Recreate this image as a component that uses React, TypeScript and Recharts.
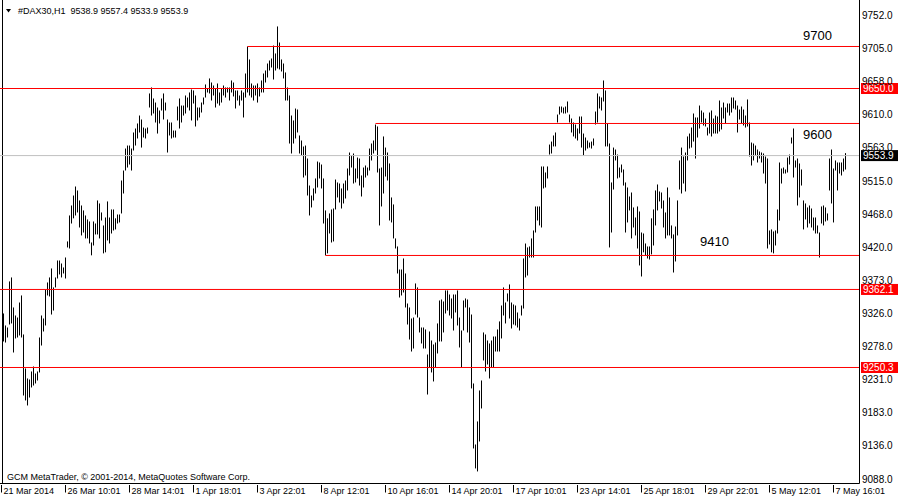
import { ComposedChart, Bar, XAxis, YAxis, ReferenceLine } from 'recharts';

// H1 bars, high and low of each hour
const highs = [
  9327.7, 9310.5, 9307.6, 9373.6, 9379.3, 9336.3, 9324.8, 9321.9, 9343.4, 9353.5,
  9297.6, 9248.9, 9234.6, 9233.1, 9244.6, 9251.7, 9241.7, 9244.6, 9293.3, 9324.8,
  9320.5, 9362.1, 9372.1, 9379.3, 9392.2, 9365.0, 9379.3, 9403.6, 9403.6, 9399.3,
  9393.6, 9407.9, 9430.9, 9468.1, 9482.4, 9496.7, 9509.6, 9503.9, 9489.6, 9482.4,
  9475.3, 9468.1, 9462.4, 9459.5, 9429.4, 9459.5, 9456.6, 9489.6, 9485.3, 9472.4,
  9453.8, 9465.2, 9488.2, 9465.2, 9476.7, 9476.7, 9464.0, 9469.5, 9469.5, 9518.2,
  9532.5, 9564.0, 9568.3, 9568.3, 9564.0, 9587.0, 9592.7, 9599.9, 9611.3, 9605.6,
  9594.1, 9592.7, 9594.1, 9642.9, 9651.5, 9635.7, 9629.9, 9622.8, 9618.5, 9635.7,
  9642.9, 9629.9, 9605.6, 9601.3, 9601.3, 9589.8, 9589.8, 9624.2, 9635.7, 9625.6,
  9625.6, 9640.0, 9637.1, 9644.3, 9648.6, 9647.2, 9640.0, 9622.8, 9622.8, 9629.9,
  9637.1, 9655.8, 9650.0, 9664.4, 9658.6, 9654.3, 9650.0, 9657.2, 9644.3, 9650.0,
  9654.3, 9651.5, 9651.5, 9651.5, 9661.5, 9658.6, 9647.2, 9647.2, 9640.0, 9647.2,
  9644.3, 9671.5, 9710.2, 9691.6, 9657.2, 9654.3, 9654.3, 9657.2, 9651.5, 9661.5,
  9671.5, 9675.8, 9685.8, 9690.1, 9693.0, 9711.6, 9700.2, 9738.9, 9715.9, 9691.6,
  9685.8, 9673.0, 9651.5, 9640.0, 9611.3, 9604.2, 9621.3, 9619.9, 9582.7, 9575.5,
  9566.9, 9568.3, 9549.7, 9511.0, 9496.7, 9506.8, 9521.1, 9545.4, 9544.0, 9541.1,
  9521.1, 9475.3, 9464.0, 9471.0, 9476.7, 9478.1, 9519.6, 9515.4, 9513.9, 9506.8,
  9513.9, 9518.2, 9535.4, 9558.3, 9554.0, 9556.9, 9535.4, 9551.1, 9549.7, 9525.4,
  9536.8, 9539.7, 9536.8, 9564.0, 9571.2, 9575.5, 9598.4, 9595.6, 9535.4, 9536.8,
  9581.3, 9565.4, 9558.3, 9542.6, 9493.9, 9483.9, 9435.2, 9423.7, 9390.7, 9390.7,
  9406.5, 9385.0, 9342.0, 9336.3, 9320.5, 9321.9, 9370.7, 9365.0, 9321.9, 9307.6,
  9307.6, 9304.8, 9268.9, 9301.9, 9289.0, 9283.3, 9286.1, 9313.4, 9346.3, 9347.7,
  9344.9, 9360.7, 9360.7, 9354.9, 9349.2, 9354.9, 9354.9, 9360.7, 9321.9, 9303.3,
  9346.3, 9349.2, 9347.7, 9336.3, 9326.2, 9227.4, 9140.0, 9173.0, 9217.4, 9231.7,
  9300.5, 9297.6, 9289.0, 9284.7, 9289.0, 9294.7, 9294.7, 9304.8, 9316.3, 9339.1,
  9365.0, 9343.4, 9356.4, 9369.3, 9343.4, 9340.6, 9339.1, 9329.1, 9320.5, 9339.1,
  9406.5, 9427.9, 9422.3, 9423.7, 9435.2, 9446.6, 9481.0, 9481.0, 9481.0, 9538.3,
  9538.3, 9529.7, 9538.3, 9569.7, 9574.0, 9582.7, 9587.0, 9612.7, 9624.2, 9624.2,
  9622.8, 9624.2, 9631.4, 9612.7, 9607.0, 9601.3, 9598.4, 9592.7, 9609.9, 9609.9,
  9585.5, 9579.8, 9575.5, 9572.6, 9574.0, 9578.4, 9617.0, 9642.9, 9638.6, 9637.1,
  9661.5, 9647.2, 9599.9, 9571.2, 9515.4, 9565.4, 9562.6, 9555.4, 9536.8, 9541.1,
  9534.0, 9515.4, 9508.2, 9495.3, 9501.0, 9479.6, 9465.2, 9481.0, 9473.8, 9443.7,
  9442.3, 9428.0, 9423.7, 9423.7, 9464.0, 9476.7, 9503.9, 9512.5, 9502.5, 9501.0,
  9489.6, 9472.4, 9508.2, 9493.9, 9453.8, 9440.9, 9452.3, 9489.6, 9546.9, 9565.4,
  9552.6, 9558.3, 9581.3, 9585.5, 9594.1, 9614.2, 9608.5, 9608.5, 9625.6, 9618.5,
  9615.6, 9607.0, 9594.1, 9615.6, 9618.5, 9607.0, 9611.3, 9609.9, 9632.8, 9622.8,
  9629.9, 9622.8, 9628.5, 9628.5, 9637.1, 9637.1, 9632.8, 9625.6, 9619.9, 9624.2,
  9619.9, 9611.3, 9634.3, 9601.3, 9572.6, 9571.2, 9568.3, 9562.6, 9559.8, 9558.3,
  9556.9, 9552.6, 9549.7, 9446.6, 9448.1, 9445.2, 9446.6, 9476.7, 9544.0, 9535.4,
  9536.8, 9534.0, 9551.1, 9555.4, 9579.8, 9592.7, 9546.9, 9549.7, 9542.6, 9534.0,
  9489.6, 9485.3, 9479.6, 9482.4, 9478.1, 9465.2, 9465.2, 9453.8, 9443.7, 9481.0,
  9482.4, 9479.6, 9471.0, 9549.7, 9562.6, 9535.4, 9546.9, 9544.0, 9544.0, 9544.0,
  9549.7, 9557.4,
];

const lows = [
  9287.6, 9286.1, 9293.3, 9311.9, 9313.4, 9271.8, 9291.9, 9293.3, 9296.2, 9293.3,
  9210.2, 9203.1, 9195.9, 9207.3, 9221.7, 9224.5, 9227.4, 9231.7, 9243.2, 9281.8,
  9301.9, 9310.5, 9353.5, 9352.1, 9326.2, 9331.9, 9365.0, 9377.8, 9383.6, 9379.3,
  9385.0, 9377.8, 9422.3, 9420.8, 9456.6, 9464.0, 9468.1, 9472.4, 9450.9, 9439.5,
  9443.7, 9435.2, 9435.2, 9428.0, 9411.0, 9425.1, 9440.9, 9440.9, 9435.2, 9460.9,
  9413.8, 9415.3, 9432.3, 9428.0, 9442.3, 9446.6, 9448.1, 9456.6, 9458.1, 9471.0,
  9499.6, 9532.5, 9536.8, 9541.1, 9532.5, 9561.2, 9568.3, 9578.4, 9587.0, 9565.4,
  9579.8, 9578.4, 9585.5, 9622.8, 9611.3, 9614.2, 9601.3, 9585.5, 9599.9, 9618.5,
  9605.6, 9618.5, 9558.3, 9582.7, 9578.4, 9579.8, 9579.8, 9604.2, 9592.7, 9601.3,
  9611.3, 9614.2, 9622.8, 9618.5, 9604.2, 9628.5, 9595.6, 9604.2, 9608.5, 9615.6,
  9627.1, 9637.1, 9644.3, 9642.9, 9632.8, 9640.0, 9622.8, 9628.5, 9625.6, 9629.9,
  9640.0, 9637.1, 9644.3, 9632.8, 9644.3, 9638.6, 9621.4, 9632.8, 9625.6, 9632.8,
  9608.5, 9637.1, 9644.3, 9640.0, 9637.1, 9632.8, 9640.0, 9629.9, 9638.6, 9644.3,
  9644.3, 9658.6, 9665.8, 9675.8, 9680.1, 9662.9, 9675.8, 9678.7, 9677.3, 9674.4,
  9664.4, 9632.8, 9632.8, 9571.2, 9556.9, 9571.2, 9578.4, 9587.0, 9556.9, 9554.0,
  9522.5, 9525.4, 9496.7, 9468.1, 9479.6, 9489.6, 9499.6, 9508.2, 9521.1, 9506.8,
  9456.6, 9411.0, 9413.8, 9442.3, 9429.4, 9430.9, 9476.7, 9493.9, 9486.7, 9478.1,
  9485.3, 9492.4, 9503.9, 9525.4, 9536.8, 9513.9, 9515.4, 9521.1, 9511.0, 9495.3,
  9508.2, 9522.5, 9525.4, 9532.5, 9546.9, 9556.9, 9561.2, 9529.7, 9453.8, 9481.0,
  9499.6, 9523.9, 9518.2, 9460.9, 9458.1, 9435.2, 9420.8, 9385.0, 9350.6, 9353.5,
  9357.8, 9336.3, 9311.9, 9290.4, 9273.2, 9277.5, 9326.2, 9321.9, 9300.5, 9284.7,
  9277.5, 9277.5, 9211.6, 9250.3, 9243.2, 9230.3, 9250.3, 9270.4, 9287.6, 9287.6,
  9300.5, 9327.7, 9331.9, 9324.8, 9320.5, 9303.3, 9329.1, 9310.5, 9279.0, 9250.3,
  9303.3, 9336.3, 9300.5, 9286.1, 9220.3, 9134.3, 9105.7, 9101.4, 9144.3, 9191.6,
  9260.4, 9244.6, 9254.6, 9234.6, 9250.3, 9250.3, 9273.2, 9273.2, 9273.2, 9291.9,
  9324.8, 9313.4, 9344.9, 9320.5, 9306.2, 9311.9, 9310.5, 9307.6, 9303.3, 9324.8,
  9334.8, 9379.3, 9382.1, 9407.9, 9407.9, 9407.9, 9443.7, 9460.9, 9453.8, 9450.9,
  9506.8, 9508.2, 9521.1, 9555.4, 9556.9, 9567.0, 9567.0, 9601.3, 9612.7, 9615.6,
  9614.2, 9614.2, 9615.6, 9601.3, 9587.0, 9581.3, 9578.4, 9575.5, 9585.5, 9565.4,
  9554.0, 9561.2, 9564.0, 9565.4, 9564.0, 9568.3, 9598.4, 9601.3, 9621.4, 9618.5,
  9631.4, 9567.0, 9567.0, 9422.3, 9443.7, 9505.3, 9546.9, 9521.1, 9522.5, 9529.7,
  9511.0, 9443.7, 9458.1, 9475.3, 9435.2, 9450.9, 9439.5, 9420.8, 9396.5, 9380.7,
  9415.3, 9411.0, 9406.5, 9405.0, 9412.4, 9425.1, 9453.8, 9475.3, 9488.2, 9478.1,
  9450.9, 9435.2, 9439.5, 9439.5, 9435.2, 9386.4, 9402.2, 9439.5, 9505.3, 9499.6,
  9513.9, 9502.5, 9546.9, 9564.0, 9565.4, 9574.0, 9549.7, 9579.8, 9592.7, 9601.3,
  9597.0, 9595.6, 9582.7, 9585.5, 9581.3, 9585.5, 9585.5, 9585.5, 9588.4, 9591.3,
  9607.0, 9599.9, 9615.6, 9611.3, 9615.6, 9621.4, 9619.9, 9587.0, 9605.6, 9599.9,
  9597.0, 9594.1, 9595.6, 9552.6, 9539.7, 9546.9, 9554.0, 9544.0, 9549.7, 9544.0,
  9528.2, 9513.9, 9420.8, 9426.5, 9415.3, 9413.8, 9425.1, 9442.3, 9460.9, 9513.9,
  9528.2, 9528.2, 9529.7, 9541.1, 9571.2, 9522.5, 9536.8, 9482.4, 9493.9, 9511.0,
  9448.1, 9462.4, 9450.9, 9456.6, 9450.9, 9446.6, 9442.3, 9442.3, 9407.9, 9456.6,
  9453.8, 9459.5, 9460.9, 9503.9, 9485.3, 9458.1, 9532.5, 9503.9, 9528.2, 9525.4,
  9531.1, 9533.9,
];

const timeLabels = [
  '21 Mar 2014', '26 Mar 10:01', '28 Mar 14:01', '1 Apr 18:01', '3 Apr 22:01',
  '8 Apr 12:01', '10 Apr 16:01', '14 Apr 20:01', '17 Apr 10:01', '23 Apr 14:01',
  '25 Apr 18:01', '29 Apr 22:01', '5 May 12:01', '7 May 16:01',
];
const timeLabelBars = [0, 32, 64, 96, 128, 160, 192, 224, 256, 288, 320, 352, 384, 416];

const priceTicks = [
  9752.0, 9705.0, 9658.0, 9610.0, 9563.0, 9515.0, 9468.0, 9420.0,
  9373.0, 9326.0, 9278.0, 9231.0, 9183.0, 9136.0, 9088.0,
];

const symbol = '#DAX30,H1';
const lastOhlc = [9538.9, 9557.4, 9533.9, 9553.9];
const bidPrice = 9553.9;

// horizontal lines with a tag on the price scale
const levelPrices = [9650.0, 9362.1, 9250.3];

// lines drawn from a bar to the right edge, with a caption
const trendPrices = [9710.2, 9599.9, 9410.8];
const trendFromBars = [122, 186, 161];
const trendNames = ['9700', '9600', '9410'];
const trendTextX = [803, 803, 700];
const trendTextDy = [-6, 16, -9];

const FONT = '"Liberation Sans", Arial, sans-serif';
const X_DOMAIN: [number, number] = [-1.75, 428];
const Y_DOMAIN: [number, number] = [9084.1, 9776.8];

const data = highs.map((h, i) => ({ bar: i, range: [lows[i], h] }));

const HLBar = (props: any) => {
  const { x, y, width, height } = props;
  if (x == null || y == null || height == null) return null;
  const cx = Math.round(x + width / 2 - 0.5);
  const top = height < 0 ? y + height : y;
  return <rect x={cx} y={top} width={1} height={Math.max(Math.abs(height), 1)} fill="#000" />;
};

const TimeTick = ({ x, y, payload }: any) => {
  const idx = timeLabelBars.indexOf(payload.value);
  if (idx < 0) return null;
  return (
    <g>
      <line x1={x - 2} x2={x - 2} y1={y + 1.5} y2={y + 9} stroke="#000" />
      <text x={x} y={y + 10} fontSize={9} fontFamily={FONT} fill="#000">
        {timeLabels[idx]}
      </text>
    </g>
  );
};

const PriceTick = ({ y, payload }: any) => (
  <text x={862} y={y + 2} fontSize={10} fontFamily={FONT} fill="#000">
    {Number(payload.value).toFixed(1)}
  </text>
);

const PriceTag = ({ viewBox, text, bg }: any) => {
  const y = viewBox.y;
  return (
    <g>
      <rect x={861} y={y - 5.5} width={37} height={11} fill={bg} />
      <text x={863} y={y + 3.5} fontSize={10} fontFamily={FONT} fill="#fff">
        {text}
      </text>
    </g>
  );
};

export default function App() {
  return (
    <div style={{ position: 'absolute', left: 0, top: 0, width: 900, height: 500, background: '#fff' }}>
      <ComposedChart width={900} height={500} data={data} margin={{ top: 0, right: 0, left: 0, bottom: 0 }}>
        <XAxis
          dataKey="bar"
          type="number"
          domain={X_DOMAIN}
          allowDataOverflow
          ticks={timeLabelBars}
          interval={0}
          height={16.5}
          axisLine={{ stroke: '#000' }}
          tickLine={false}
          tickSize={0}
          tickMargin={0}
          tick={<TimeTick />}
        />
        <YAxis
          orientation="right"
          type="number"
          domain={Y_DOMAIN}
          allowDataOverflow
          ticks={priceTicks}
          interval={0}
          width={40.5}
          axisLine={{ stroke: '#000' }}
          tickLine={false}
          tick={<PriceTick />}
        />
        <ReferenceLine x={-0.5} stroke="#000" />
        <ReferenceLine
          y={bidPrice}
          stroke="#c0c0c0"
          label={(p: any) => <PriceTag viewBox={p.viewBox} text={bidPrice.toFixed(1)} bg="#000" />}
        />
        {levelPrices.map((v) => (
          <ReferenceLine
            key={v}
            y={v}
            stroke="#ff0000"
            label={(p: any) => <PriceTag viewBox={p.viewBox} text={v.toFixed(1)} bg="#ff0000" />}
          />
        ))}
        {trendPrices.map((v, i) => (
          <ReferenceLine
            key={trendNames[i]}
            segment={[
              { x: trendFromBars[i], y: v },
              { x: X_DOMAIN[1], y: v },
            ]}
            stroke="#ff0000"
            label={(p: any) => (
              <text
                x={trendTextX[i]}
                y={p.viewBox.y + trendTextDy[i]}
                fontSize={13}
                fontFamily={FONT}
                fill="#000"
              >
                {trendNames[i]}
              </text>
            )}
          />
        ))}
        <Bar dataKey="range" barSize={1} shape={(p: any) => <HLBar {...p} />} isAnimationActive={false} />
      </ComposedChart>
      <svg style={{ position: 'absolute', left: 0, top: 0 }} width={14} height={16}>
        <polygon points="6,9 11,9 8.5,12.5" fill="#000" />
      </svg>
      <div
        style={{
          position: 'absolute', left: 18, top: 6, fontFamily: FONT, fontSize: 9,
          lineHeight: '10px', whiteSpace: 'pre', color: '#000',
        }}
      >
        {symbol + '  ' + lastOhlc.map((v) => v.toFixed(1)).join(' ')}
      </div>
      <div
        style={{
          position: 'absolute', left: 7, top: 472, fontFamily: FONT, fontSize: 9,
          lineHeight: '10px', whiteSpace: 'pre', color: '#000',
        }}
      >
        GCM MetaTrader, © 2001-2014, MetaQuotes Software Corp.
      </div>
    </div>
  );
}
